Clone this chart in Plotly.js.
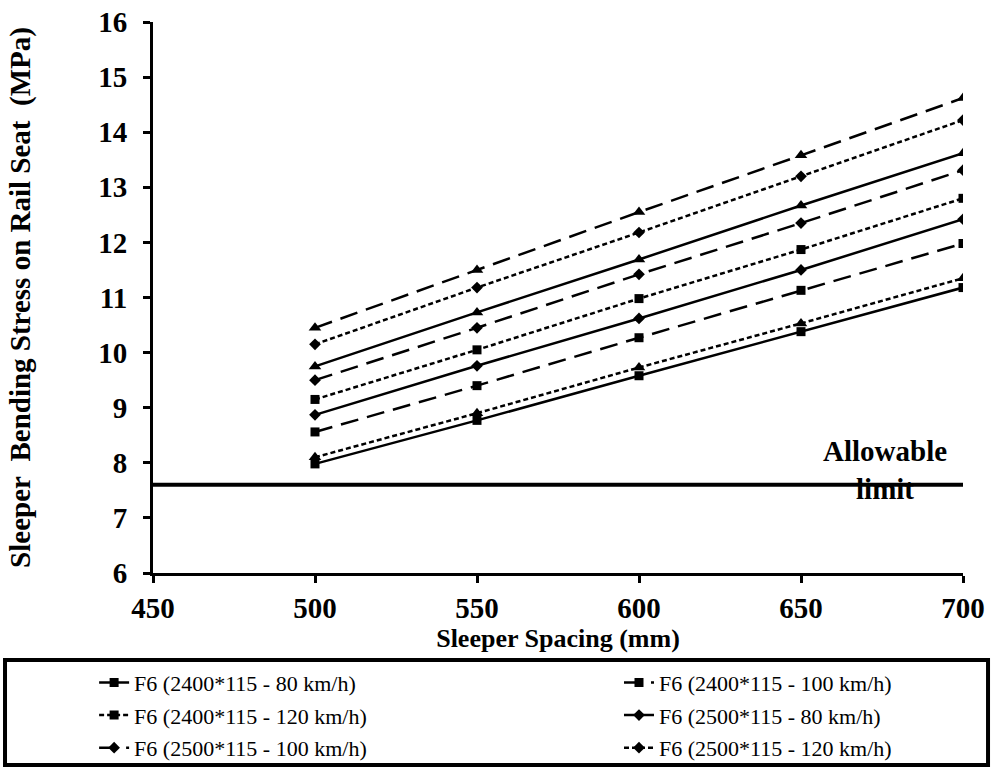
<!DOCTYPE html>
<html>
<head>
<meta charset="utf-8">
<script src="https://cdn.plot.ly/plotly-3.0.1.min.js"></script>
<style>html,body{margin:0;padding:0;background:#fff;}#chart{width:994px;height:771px;}</style>
</head>
<body>
<div id="chart"></div>
<script>
// Sleeper spacing (mm)
const spacing = [500, 550, 600, 650, 700];

// Bending stress on rail seat (MPa)
const s2400_80  = [7.98, 8.77, 9.58, 10.38, 11.18];
const s2400_100 = [8.56, 9.40, 10.27, 11.13, 11.98];
const s2400_120 = [9.15, 10.05, 10.98, 11.87, 12.80];
const s2500_80  = [8.87, 9.76, 10.62, 11.50, 12.42];
const s2500_100 = [9.50, 10.45, 11.42, 12.35, 13.31];
const s2500_120 = [10.15, 11.18, 12.18, 13.20, 14.22];
const sTri_80   = [9.75, 10.73, 11.69, 12.67, 13.62];
const sTri_100  = [10.45, 11.50, 12.55, 13.58, 14.62];
const sTri_120  = [8.10, 8.90, 9.73, 10.53, 11.35];

const limitX = [450, 700];
const limitY = [7.6, 7.6];

const names = [
  'F6 (2400*115 - 80 km/h)',
  'F6 (2400*115 - 100 km/h)',
  'F6 (2400*115 - 120 km/h)',
  'F6 (2500*115 - 80 km/h)',
  'F6 (2500*115 - 100 km/h)',
  'F6 (2500*115 - 120 km/h)'
];

const FONT = 'Liberation Serif';
const LONG = '18px,9px';
const SHORT = '5px,3px';

function tr(y, name, symbol, dash, legend, showlegend, group) {
  return {
    x: spacing, y: y, name: name || '', type: 'scatter', mode: 'lines+markers',
    line: {color: '#000', width: 2.5, dash: dash},
    marker: {color: '#000', symbol: symbol, size: symbol === 'square' ? 9 : (symbol === 'diamond' ? 9 : 11)},
    legend: legend, showlegend: showlegend, legendgroup: group
  };
}

const data = [
  {x: limitX, y: limitY, type: 'scatter', mode: 'lines', line: {color: '#000', width: 4}, showlegend: false, hoverinfo: 'skip'},
  tr(sTri_80, '', 'triangle-up', 'solid', 'legend', false, 'g7'),
  tr(sTri_100, '', 'triangle-up', LONG, 'legend', false, 'g8'),
  tr(sTri_120, '', 'triangle-up', SHORT, 'legend', false, 'g9'),
  tr(s2400_80, names[0], 'square', 'solid', 'legend', true, 'g1'),
  tr(s2400_100, names[1], 'square', LONG, 'legend2', true, 'g2'),
  tr(s2400_120, names[2], 'square', SHORT, 'legend', true, 'g3'),
  tr(s2500_80, names[3], 'diamond', 'solid', 'legend2', true, 'g4'),
  tr(s2500_100, names[4], 'diamond', LONG, 'legend', true, 'g5'),
  tr(s2500_120, names[5], 'diamond', SHORT, 'legend2', true, 'g6')
];

function legendOpts(x) {
  return {
    orientation: 'v', xanchor: 'left', yanchor: 'top',
    x: x, y: -0.161,
    bgcolor: 'rgba(0,0,0,0)', borderwidth: 0,
    font: {family: FONT, size: 22, color: '#000'},
    tracegroupgap: 1, itemclick: false
  };
}

const layout = {
  width: 994, height: 771,
  margin: {l: 153, r: 31, t: 22, b: 198, autoexpand: false},
  paper_bgcolor: '#fff', plot_bgcolor: '#fff',
  font: {family: FONT, color: '#000'},
  xaxis: {
    range: [450, 700], tickvals: [450, 500, 550, 600, 650, 700],
    showline: true, linewidth: 3, linecolor: '#000',
    ticks: 'outside', ticklen: 7, tickwidth: 3, tickcolor: '#000',
    showgrid: false, zeroline: false,
    tickfont: {family: FONT, size: 29, weight: 'bold', color: '#000'},
    title: {text: '<b>Sleeper Spacing (mm)</b>', font: {family: FONT, size: 26, color: '#000'}, standoff: 2}
  },
  yaxis: {
    range: [6, 16], dtick: 1,
    showline: true, linewidth: 3, linecolor: '#000',
    ticks: 'outside', ticklen: 7, tickwidth: 3, tickcolor: '#000',
    ticklabelstandoff: 10,
    showgrid: false, zeroline: false,
    tickfont: {family: FONT, size: 29, weight: 'bold', color: '#000'},
    title: {text: '<b>Sleeper\u00a0 Bending Stress on Rail Seat\u00a0 (MPa)</b>', font: {family: FONT, size: 29, color: '#000'}, standoff: 60}
  },
  legend: legendOpts(-0.0727),
  legend2: legendOpts(0.5753),
  shapes: [{
    type: 'rect', xref: 'paper', yref: 'paper',
    x0: -0.1827, x1: 1.0309, y0: -0.3485, y1: -0.158,
    line: {color: '#000', width: 4}, fillcolor: 'rgba(0,0,0,0)'
  }],
  annotations: [{
    x: 676, y: 7.87, xref: 'x', yref: 'y', showarrow: false,
    text: '<b>Allowable<br>limit</b>', align: 'center',
    font: {family: FONT, size: 29, color: '#000'}, yanchor: 'middle', xanchor: 'center'
  }]
};

Plotly.newPlot('chart', data, layout, {displayModeBar: false, staticPlot: true});
</script>
</body>
</html>
